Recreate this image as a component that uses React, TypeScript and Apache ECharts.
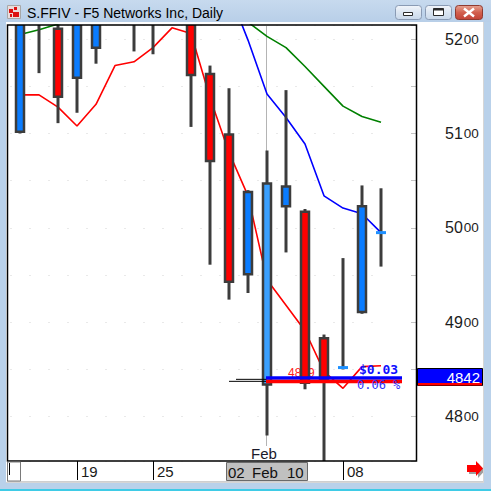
import React, { useEffect, useRef } from 'react';
import * as echarts from 'echarts';

// Daily bars for S.FFIV, prices in cents
const dates = [
  '2010-01-13', '2010-01-14', '2010-01-15', '2010-01-19', '2010-01-20',
  '2010-01-21', '2010-01-22', '2010-01-25', '2010-01-26', '2010-01-27',
  '2010-01-28', '2010-01-29', '2010-02-01', '2010-02-02', '2010-02-03',
  '2010-02-04', '2010-02-05', '2010-02-08', '2010-02-09', '2010-02-10',
];
const opens = [5102, 5224, 5211, 5159, 5191, 5232, 5240, 5230, 5246, 5232, 5163, 5099, 4951, 4834, 5023, 5017, 4883, 4851, 4911, 4994];
const closes = [5228, 5240, 5139, 5226, 5232, 5246, 5228, 5238, 5256, 5162, 5071, 4943, 5038, 5047, 5044, 4836, 4839, 4852, 5023, 4995];
const lows = [5100, 5164, 5111, 5122, 5174, 5220, 5187, 5184, 5226, 5107, 4961, 4924, 4931, 4780, 4974, 4829, 4748, 4850, 4909, 4959];
const highs = [5240, 5252, 5222, 5236, 5240, 5256, 5250, 5248, 5264, 5240, 5172, 5148, 5040, 5082, 5146, 5020, 4887, 4968, 5045, 5042];

// Moving averages
const maFast = [5141, 5141, 5128, 5108, 5131, 5172, 5176, 5191, 5212, 5206, 5138, 5080, 5034, 4945, 4918, 4891, 4848, 4830, 4853, 4854];
const maMid = [5330, 5325, 5318, 5312, 5305, 5300, 5296, 5290, 5285, 5276, 5264, 5250, 5199, 5142, 5117, 5089, 5034, 5021, 5015, 4995];
const maSlow = [5205, 5210, 5216, 5222, 5228, 5233, 5238, 5242, 5246, 5248, 5244, 5236, 5218, 5203, 5191, 5171, 5150, 5129, 5118, 5112];

// Labelled days on the time axis
const tickDates = ['2010-01-19', '2010-01-25', '2010-02-08'];

// Cursor and horizontal level drawing
const cursorDate = '2010-02-02';
const cursorPrice = 4842;
const levelPrice = 4839;

const FONT = "'Liberation Sans', Arial, sans-serif";
const MONO = "'DejaVu Sans Mono', 'Liberation Mono', monospace";
const UP = '#0a7cff';
const UP_SEL = '#3aa0ff';
const DOWN = '#ff0000';
const OUTLINE = '#3c3c3c';

const tickIdx = tickDates.map((d) => dates.indexOf(d));
const selIdx = dates.indexOf(cursorDate);

function chrome(): any[] {
  const frameBlue = '#b9d1ea';
  const btn = (x: number, w: number, red: boolean) => ({
    type: 'rect',
    z: 50,
    shape: { x: x + 0.5, y: 5.5, width: w, height: 14, r: 3 },
    style: {
      fill: new echarts.graphic.LinearGradient(0, 0, 0, 1, red
        ? [{ offset: 0, color: '#e6a392' }, { offset: 0.5, color: '#d2604e' }, { offset: 1, color: '#c24236' }]
        : [{ offset: 0, color: '#f2f6fb' }, { offset: 0.5, color: '#dbe5f1' }, { offset: 1, color: '#c9d8ea' }]),
      stroke: red ? '#8f3a30' : '#8a9bb4',
      lineWidth: 1,
    },
  });
  return [
    // window frame
    {
      type: 'rect', z: 40, shape: { x: 0, y: 0, width: 491, height: 22 },
      style: { fill: new echarts.graphic.LinearGradient(0, 0, 0, 1, [{ offset: 0, color: '#c7daee' }, { offset: 1, color: '#b8cfe8' }]) },
    },
    { type: 'rect', z: 40, shape: { x: 0, y: 22, width: 6, height: 469 }, style: { fill: frameBlue } },
    { type: 'rect', z: 40, shape: { x: 484, y: 22, width: 7, height: 469 }, style: { fill: frameBlue } },
    { type: 'rect', z: 40, shape: { x: 0, y: 483, width: 491, height: 8 }, style: { fill: frameBlue } },
    { type: 'rect', z: 41, shape: { x: 0, y: 489, width: 491, height: 2 }, style: { fill: '#3fcbe6' } },
    { type: 'line', z: 41, shape: { x1: 6, y1: 482.5, x2: 484, y2: 482.5 }, style: { stroke: '#d6d6d6', lineWidth: 1 } },
    { type: 'line', z: 41, shape: { x1: 483.5, y1: 22, x2: 483.5, y2: 483 }, style: { stroke: '#d6d6d6', lineWidth: 1 } },
    // title icon
    { type: 'rect', z: 50, shape: { x: 7.5, y: 5.5, width: 13, height: 13 }, style: { fill: '#eadcdc', stroke: '#a8a8a8', lineWidth: 1 } },
    { type: 'rect', z: 51, shape: { x: 9, y: 9, width: 4, height: 4 }, style: { fill: '#dd1111' } },
    { type: 'rect', z: 51, shape: { x: 14, y: 7, width: 3, height: 3 }, style: { fill: '#dd1111' } },
    { type: 'rect', z: 51, shape: { x: 13, y: 12, width: 6, height: 5 }, style: { fill: '#dd1111' } },
    { type: 'rect', z: 51, shape: { x: 10, y: 14, width: 2, height: 3 }, style: { fill: '#dd1111' } },
    // title
    {
      type: 'text', z: 50, x: 27, y: 13,
      style: { text: 'S.FFIV - F5 Networks Inc, Daily', fontSize: 14, fontFamily: FONT, fill: '#000', verticalAlign: 'middle' },
    },
    // caption buttons
    btn(395, 26, false),
    { type: 'rect', z: 51, shape: { x: 403.5, y: 12.5, width: 9, height: 3 }, style: { fill: '#fff', stroke: '#2b2b2b', lineWidth: 1 } },
    btn(425, 26, false),
    { type: 'rect', z: 51, shape: { x: 433.5, y: 8.5, width: 10, height: 7 }, style: { fill: '#fff', stroke: '#2b2b2b', lineWidth: 1 } },
    { type: 'rect', z: 52, shape: { x: 433.5, y: 8.5, width: 10, height: 2 }, style: { fill: '#2b2b2b' } },
    btn(455, 27, true),
    { type: 'line', z: 51, shape: { x1: 464, y1: 8.5, x2: 474, y2: 16.5 }, style: { stroke: '#fff', lineWidth: 2.5 } },
    { type: 'line', z: 51, shape: { x1: 474, y1: 8.5, x2: 464, y2: 16.5 }, style: { stroke: '#fff', lineWidth: 2.5 } },
    // plot frame
    { type: 'rect', z: 20, shape: { x: 7.5, y: 25, width: 409, height: 436 }, style: { fill: null, stroke: '#000', lineWidth: 1.5 } },
    // time strip
    { type: 'line', z: 20, shape: { x1: 7, y1: 481.5, x2: 484, y2: 481.5 }, style: { stroke: '#cfcfcf', lineWidth: 1 } },
    { type: 'rect', z: 20, shape: { x: 7.5, y: 462, width: 13, height: 19 }, style: { fill: '#fff', stroke: '#7a7a7a', lineWidth: 1 } },
    { type: 'line', z: 21, shape: { x1: 9.5, y1: 463, x2: 9.5, y2: 475 }, style: { stroke: '#000', lineWidth: 1 } },
    // scroll arrow
    {
      type: 'polygon', z: 20,
      shape: { points: [[469, 467], [478, 467], [478, 463], [485, 470.5], [478, 478], [478, 474], [469, 474]] },
      style: { fill: '#a0a0a0' },
    },
    {
      type: 'polygon', z: 21,
      shape: { points: [[467, 465], [476, 465], [476, 461], [483, 468.5], [476, 476], [476, 472], [467, 472]] },
      style: { fill: '#ff0000' },
    },
  ];
}

function overlays(chart: echarts.ECharts): any[] {
  const toPx = (i: number, v: number) => chart.convertToPixel({ gridIndex: 0 }, [i, v]) as number[];
  const [xSel, yLevel] = toPx(selIdx, levelPrice);
  const yCursor = toPx(selIdx, cursorPrice)[1];
  const xLast = toPx(dates.length - 1, levelPrice)[0];
  const diff = (cursorPrice - levelPrice) / 100;
  const pct = ((cursorPrice - levelPrice) / levelPrice) * 100;
  const [dd, mm, yy] = (() => {
    const d = new Date(cursorDate + 'T00:00:00Z');
    const months = ['Jan', 'Feb', 'Mar', 'Apr', 'May', 'Jun', 'Jul', 'Aug', 'Sep', 'Oct', 'Nov', 'Dec'];
    return [String(d.getUTCDate()).padStart(2, '0'), months[d.getUTCMonth()], String(d.getUTCFullYear()).slice(2)];
  })();
  const bandEnd = xLast + 21;
  return [
    // cursor line (behind bars)
    { type: 'line', z: 2, shape: { x1: xSel - 0.5, y1: 26, x2: xSel - 0.5, y2: 446 }, style: { stroke: '#b4b4b4', lineWidth: 1 } },
    { type: 'text', z: 20, x: xSel - 3, y: 453, style: { text: mm, fontSize: 15, fontFamily: FONT, fill: '#1a1a2a', align: 'center', verticalAlign: 'middle' } },
    // level value, partly under the bars
    { type: 'text', z: 3, x: xSel + 21, y: yLevel - 7, style: { text: String(levelPrice), fontSize: 12, fontFamily: FONT, fill: '#ff2020', verticalAlign: 'middle' } },
    // level line
    { type: 'line', z: 10, shape: { x1: xSel - 31, y1: yLevel - 0.5, x2: xSel, y2: yLevel - 0.5 }, style: { stroke: '#000', lineWidth: 1 } },
    { type: 'line', z: 10, shape: { x1: xSel - 38, y1: yLevel + 1.5, x2: xSel, y2: yLevel + 1.5 }, style: { stroke: '#000', lineWidth: 1 } },
    { type: 'rect', z: 10, shape: { x: xSel - 1, y: yLevel - 3.5, width: bandEnd - xSel + 1, height: 3.5 }, style: { fill: '#0000ff' } },
    { type: 'rect', z: 10, shape: { x: xSel - 1, y: yLevel, width: bandEnd - xSel + 1, height: 3.5 }, style: { fill: '#ff0000' } },
    // difference readout
    { type: 'text', z: 11, x: xLast - 22, y: yLevel - 10, style: { text: '$' + diff.toFixed(2), fontSize: 13, fontWeight: 'bold', fontFamily: MONO, fill: '#1010ff', verticalAlign: 'middle' } },
    { type: 'text', z: 11, x: xLast - 24, y: yLevel + 5.5, style: { text: pct.toFixed(2) + ' %', fontSize: 12, fontFamily: MONO, fill: '#3030ff', verticalAlign: 'middle' } },
    // cursor price on the price scale
    { type: 'rect', z: 12, shape: { x: 417.5, y: yCursor - 8.5, width: 65, height: 17 }, style: { fill: '#0000ff', stroke: '#000', lineWidth: 1 } },
    { type: 'rect', z: 13, shape: { x: 418, y: yCursor + 6, width: 64, height: 2.5 }, style: { fill: '#ff0000' } },
    { type: 'text', z: 14, x: 480, y: yCursor, style: { text: String(cursorPrice), fontSize: 15, fontFamily: FONT, fill: '#ffffff', align: 'right', verticalAlign: 'middle' } },
    // cursor date on the time strip
    { type: 'rect', z: 20, shape: { x: xSel - 40.5, y: 462.5, width: 81, height: 18 }, style: { fill: '#c0c0c0', stroke: '#6a6a6a', lineWidth: 1 } },
    { type: 'text', z: 21, x: xSel - 39, y: 472, style: { text: dd, fontSize: 15, fontFamily: FONT, fill: '#111', verticalAlign: 'middle' } },
    { type: 'text', z: 21, x: xSel - 15, y: 472, style: { text: mm, fontSize: 15, fontFamily: FONT, fill: '#111', verticalAlign: 'middle' } },
    { type: 'text', z: 21, x: xSel + 20, y: 472, style: { text: yy, fontSize: 15, fontFamily: FONT, fill: '#111', verticalAlign: 'middle' } },
  ];
}

export default function App() {
  const ref = useRef<HTMLDivElement>(null);

  useEffect(() => {
    if (!ref.current) return;
    const chart = echarts.init(ref.current, null, { renderer: 'svg' });

    const candleData = dates.map((_, i) => [i, opens[i], closes[i], lows[i], highs[i]]);

    const maSeries = (data: number[], color: string) => ({
      type: 'line',
      data,
      z: 2,
      symbol: 'none',
      silent: true,
      clip: true,
      lineStyle: { color, width: 1.6 },
    });

    chart.setOption({
      animation: false,
      backgroundColor: '#ffffff',
      grid: { left: 10.5, top: 25, width: 380, height: 436, containLabel: false, outerBoundsMode: 'none' },
      xAxis: {
        type: 'category',
        data: dates,
        boundaryGap: true,
        axisLine: { show: false },
        axisTick: {
          show: true,
          alignWithLabel: true,
          interval: (i: number) => tickIdx.includes(i),
          length: 19,
          lineStyle: { color: '#000', width: 1 },
        },
        axisLabel: {
          interval: (i: number) => tickIdx.includes(i),
          formatter: (v: string) => v.slice(8),
          align: 'left',
          padding: [0, 0, 0, 4],
          margin: 3,
          fontSize: 15,
          fontFamily: FONT,
          color: '#1a1a1a',
        },
        splitLine: { show: false },
      },
      yAxis: {
        type: 'value',
        position: 'right',
        offset: 25.5,
        min: 4753,
        max: 5215,
        splitNumber: 9,
        axisLine: { show: false },
        axisTick: { show: true, inside: true, length: 5, lineStyle: { color: '#c4c4c4' } },
        axisLabel: {
          margin: 29,
          formatter: (v: number) =>
            v % 100 === 0 ? `{a|${Math.floor(v / 100)}}{b|${String(v % 100).padStart(2, '0')}}` : '',
          rich: {
            a: { fontSize: 16, fontFamily: FONT, color: '#1c1c1c', verticalAlign: 'bottom' },
            b: { fontSize: 13.5, fontFamily: FONT, color: '#1c1c1c', verticalAlign: 'bottom', padding: [0, 0, 1, 1] },
          },
        },
        splitLine: { show: true, lineStyle: { color: '#d2d2d2', type: [1, 18], width: 1 } },
      },
      series: [
        maSeries(maSlow, '#008000'),
        maSeries(maMid, '#0000ff'),
        maSeries(maFast, '#ff0000'),
        {
          type: 'custom',
          z: 5,
          clip: true,
          data: candleData,
          encode: { x: 0, y: [1, 2, 3, 4] },
          renderItem: (_params: any, api: any) => {
            const i = api.value(0);
            const o = api.value(1);
            const c = api.value(2);
            const l = api.value(3);
            const h = api.value(4);
            const [cx, yo] = api.coord([i, o]);
            const yc = api.coord([i, c])[1];
            const yl = api.coord([i, l])[1];
            const yh = api.coord([i, h])[1];
            const wick = {
              type: 'line',
              shape: { x1: cx, y1: yh, x2: cx, y2: yl },
              style: { stroke: OUTLINE, lineWidth: 3 },
            };
            let body: any;
            if (Math.abs(c - o) <= 2) {
              body = {
                type: 'rect',
                shape: { x: cx - 5, y: yc - 1.5, width: 10, height: 3 },
                style: { fill: '#1e90ff' },
              };
            } else {
              const fill = c > o ? (i === selIdx ? UP_SEL : UP) : DOWN;
              body = {
                type: 'rect',
                shape: { x: cx - 4, y: Math.min(yo, yc), width: 8, height: Math.abs(yo - yc) },
                style: { fill, stroke: OUTLINE, lineWidth: 2.5 },
              };
            }
            return { type: 'group', children: [wick, body] };
          },
        },
      ],
      graphic: { elements: chrome() },
    });

    chart.setOption({ graphic: { elements: [...chrome(), ...overlays(chart)] } }, { replaceMerge: ['graphic'] });

    return () => chart.dispose();
  }, []);

  return (
    <div
      ref={ref}
      style={{ position: 'fixed', left: 0, top: 0, width: 491, height: 491 }}
    />
  );
}
